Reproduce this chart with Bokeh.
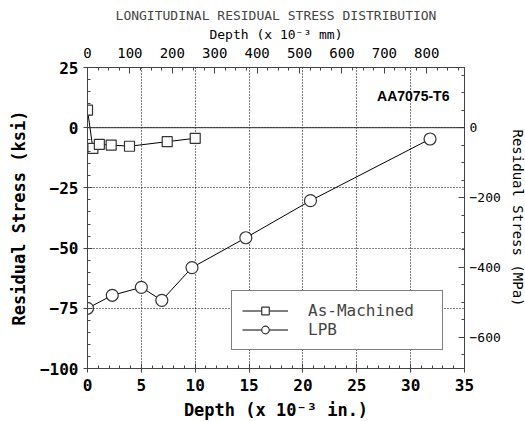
from bokeh.plotting import figure
from bokeh.models import (Range1d, LinearAxis, FixedTicker, Span, Label, Legend, LegendItem, Grid)
from bokeh.embed import file_html
from bokeh.resources import INLINE

# ---- data ----
am_depth_in = [0, 0.5, 1.1, 2.2, 3.9, 7.4, 10.0]
am_stress_ksi = [7.3, -8.6, -6.9, -7.2, -7.7, -5.8, -4.4]

lpb_depth_in = [0, 2.3, 5.0, 6.9, 9.7, 14.7, 20.7, 31.8]
lpb_stress_ksi = [-75, -69.6, -66.3, -71.7, -58.1, -45.7, -30.3, -4.7]

x_ticks_in = [0, 5, 10, 15, 20, 25, 30, 35]
y_ticks_ksi = [-100, -75, -50, -25, 0, 25]
top_ticks_mm = [0, 100, 200, 300, 400, 500, 600, 700, 800]
right_ticks_mpa = [-600, -400, -200, 0]

IN_TO_MM = 25.4
KSI_TO_MPA = 6.895
X_MAX = 35
Y_MIN, Y_MAX = -100, 25

MONO = "DejaVu Sans Mono"

p = figure(frame_width=377, frame_height=301, output_backend="svg", toolbar_location=None,
           x_range=Range1d(0, X_MAX), y_range=Range1d(Y_MIN, Y_MAX),
           min_border_left=87, min_border_right=61, min_border_top=67, min_border_bottom=53,
           x_axis_type=None, y_axis_type=None)
p.background_fill_color = "white"
p.border_fill_color = "white"
p.outline_line_color = "#444444"

p.extra_x_ranges = {"mm": Range1d(0, X_MAX * IN_TO_MM)}
p.extra_y_ranges = {"mpa": Range1d(Y_MIN * KSI_TO_MPA, Y_MAX * KSI_TO_MPA)}

def style(ax, bold, size):
    ax.axis_line_color = "#444444"
    ax.major_tick_line_color = "#444444"
    ax.minor_tick_line_color = "#444444"
    ax.major_label_text_font = MONO
    ax.major_label_text_font_size = size
    ax.major_label_text_font_style = "bold" if bold else "normal"
    ax.major_label_text_color = "black"
    ax.axis_label_text_font = MONO
    ax.axis_label_text_color = "black"

# bottom axis
xb = LinearAxis(ticker=FixedTicker(ticks=x_ticks_in, minor_ticks=list(range(0, 36))),
                axis_label="Depth (x 10\u207b\u00b3 in.)")
style(xb, True, "16px")
xb.axis_label_text_font_size = "17px"
xb.axis_label_text_font_style = "bold"
xb.major_tick_in = 5; xb.major_tick_out = 4
xb.minor_tick_in = 3; xb.minor_tick_out = 0
xb.major_label_standoff = 6
xb.axis_label_standoff = 6
p.add_layout(xb, "below")

# left axis
yl = LinearAxis(ticker=FixedTicker(ticks=y_ticks_ksi, minor_ticks=list(range(-100, 26, 5))),
                axis_label="Residual Stress (ksi)")
style(yl, True, "16px")
yl.axis_label_text_font_size = "17px"
yl.axis_label_text_font_style = "bold"
yl.major_tick_in = 5; yl.major_tick_out = 4
yl.minor_tick_in = 3; yl.minor_tick_out = 0
yl.major_label_standoff = 5
yl.axis_label_standoff = 8
p.add_layout(yl, "left")

# top axis (mm)
xt = LinearAxis(x_range_name="mm",
                ticker=FixedTicker(ticks=top_ticks_mm, minor_ticks=list(range(0, 890, 25))),
                axis_label="Depth (x 10\u207b\u00b3 mm)")
style(xt, False, "14px")
xt.axis_label_text_font_size = "13px"
xt.axis_label_text_font_style = "normal"
xt.major_tick_in = 6; xt.major_tick_out = 0
xt.minor_tick_in = 3; xt.minor_tick_out = 0
xt.major_label_standoff = 10
xt.axis_label_standoff = 3
p.add_layout(xt, "above")

# right axis (MPa)
yr = LinearAxis(y_range_name="mpa",
                ticker=FixedTicker(ticks=right_ticks_mpa, minor_ticks=list(range(-650, 200, 50))),
                axis_label="Residual Stress (MPa)")
style(yr, False, "13px")
yr.axis_label_text_font_size = "14px"
yr.axis_label_text_font_style = "normal"
yr.major_tick_in = 6; yr.major_tick_out = 0
yr.minor_tick_in = 3; yr.minor_tick_out = 0
yr.major_label_standoff = 5
yr.axis_label_standoff = 6
p.add_layout(yr, "right")

# grid
p.xgrid.visible = False
p.ygrid.visible = False
gx = Grid(dimension=0, ticker=xb.ticker, grid_line_color="black",
          grid_line_dash="1 2", grid_line_width=1)
gy = Grid(dimension=1, ticker=yl.ticker, grid_line_color="black",
          grid_line_dash="1 2", grid_line_width=1)
p.add_layout(gx)
p.add_layout(gy)

p.add_layout(Span(location=0, dimension="width", line_color="#333333", line_width=1))

# series
l1 = p.line(am_depth_in, am_stress_ksi, line_color="black", line_width=1)
s1 = p.scatter(am_depth_in, am_stress_ksi, marker="square", size=10,
               fill_color="white", line_color="#333333", line_width=1.2)
l2 = p.line(lpb_depth_in, lpb_stress_ksi, line_color="black", line_width=1)
s2 = p.scatter(lpb_depth_in, lpb_stress_ksi, marker="circle", size=12,
               fill_color="white", line_color="#333333", line_width=1.2)

legend = Legend(items=[LegendItem(label="As-Machined", renderers=[l1, s1]),
                       LegendItem(label="LPB", renderers=[l2, s2])],
                location=(144, 18))
legend.margin = 0
legend.padding = 10
legend.spacing = 0
legend.glyph_width = 46
legend.glyph_height = 19
legend.label_height = 19
legend.label_width = 124
legend.label_standoff = 20
legend.label_text_font = MONO
legend.label_text_font_size = "16px"
legend.border_line_color = "black"
legend.border_line_width = 1
legend.background_fill_color = "white"
legend.background_fill_alpha = 1
p.add_layout(legend, "center")

p.add_layout(Label(x=33.6, y=13.3, text="AA7075-T6", text_align="right",
                   text_baseline="middle", text_font="Liberation Sans",
                   text_font_style="bold", text_font_size="14px", text_color="black"))

p.title.text = "LONGITUDINAL RESIDUAL STRESS DISTRIBUTION"
p.title.text_font = MONO
p.title.text_font_size = "13px"
p.title.text_font_style = "normal"
p.title.align = "center"
p.title.offset = 0
p.title.standoff = 2

open("out.html", "w").write(file_html(p, INLINE))
